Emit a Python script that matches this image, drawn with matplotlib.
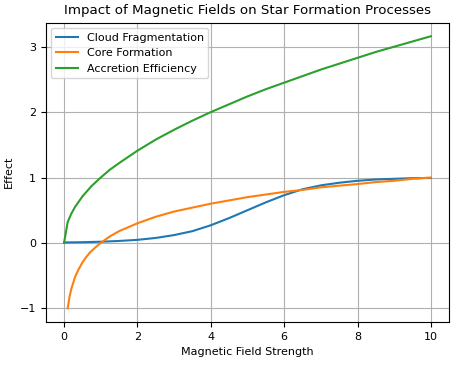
import matplotlib
matplotlib.use("Agg")
import matplotlib.pyplot as plt

# values
frag_x = [0, 0.5, 1, 1.5, 2, 2.5, 3, 3.5, 4, 4.5, 5, 5.5, 6, 6.5, 7, 7.5, 8, 8.5, 9, 9.5, 10]
frag_y = [0.007, 0.011, 0.018, 0.03, 0.047, 0.076, 0.12, 0.18, 0.27, 0.38, 0.5,
          0.62, 0.73, 0.82, 0.88, 0.92, 0.95, 0.97, 0.98, 0.99, 0.993]

core_x = [0.1, 0.15, 0.2, 0.3, 0.4, 0.5, 0.6, 0.7, 0.85, 1, 1.25, 1.5, 2, 2.5, 3, 3.5,
          4, 4.5, 5, 5.5, 6, 6.5, 7, 7.5, 8, 8.5, 9, 9.5, 10]
core_y = [-1, -0.82, -0.7, -0.52, -0.4, -0.3, -0.22, -0.15, -0.07, 0, 0.1, 0.18, 0.3,
          0.4, 0.48, 0.54, 0.6, 0.65, 0.7, 0.74, 0.78, 0.81, 0.85, 0.875, 0.9, 0.93,
          0.95, 0.98, 1.0]

acc_x = [0, 0.1, 0.2, 0.3, 0.4, 0.5, 0.75, 1, 1.25, 1.5, 2, 2.5, 3, 3.5, 4, 4.5, 5,
         5.5, 6, 6.5, 7, 7.5, 8, 8.5, 9, 9.5, 10]
acc_y = [0, 0.32, 0.45, 0.55, 0.63, 0.71, 0.87, 1.0, 1.12, 1.22, 1.41, 1.58, 1.73,
         1.87, 2.0, 2.12, 2.24, 2.35, 2.45, 2.55, 2.65, 2.74, 2.83, 2.92, 3.0, 3.08, 3.16]

plt.rcParams["font.size"] = 8

fig, ax = plt.subplots(figsize=(4.57, 3.65), dpi=100)
fig.subplots_adjust(left=0.1, right=0.983, top=0.938, bottom=0.118)
ax.plot(frag_x, frag_y, label="Cloud Fragmentation", color="#1f77b4")
ax.plot(core_x, core_y, label="Core Formation", color="#ff7f0e")
ax.plot(acc_x, acc_y, label="Accretion Efficiency", color="#2ca02c")
ax.set_title("Impact of Magnetic Fields on Star Formation Processes", fontsize=9.6)
ax.set_xlabel("Magnetic Field Strength")
ax.set_ylabel("Effect")
ax.set_xticks([0, 2, 4, 6, 8, 10])
ax.set_yticks([-1, 0, 1, 2, 3])
ax.grid(True)
ax.legend(loc="upper left")
fig.savefig("out.png")
